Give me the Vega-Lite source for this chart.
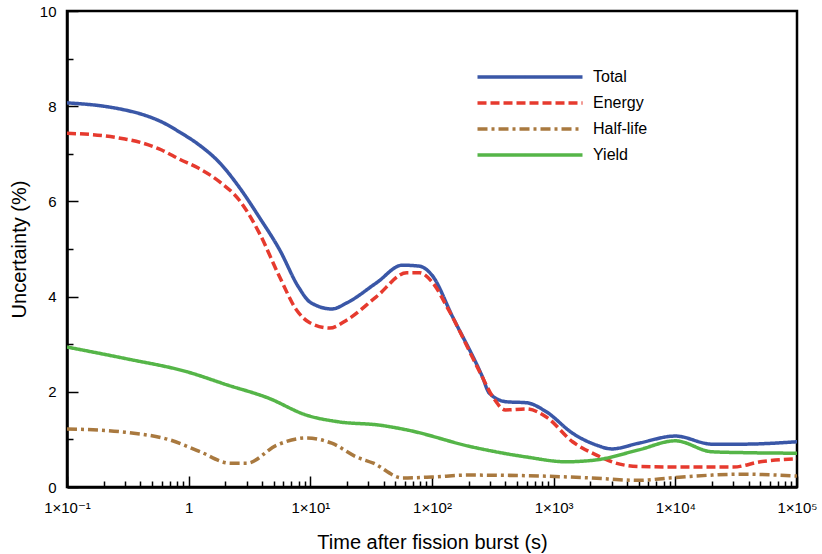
{
  "$schema": "https://vega.github.io/schema/vega-lite/v6.json",
  "width": 730,
  "height": 476,
  "autosize": {"type": "none"},
  "padding": {"left": 67, "top": 11, "right": 25, "bottom": 67},
  "background": "white",
  "config": {
    "view": {"stroke": "black", "strokeWidth": 2.5},
    "font": "Liberation Sans",
    "axis": {"domainColor": "black", "domainWidth": 2.5, "tickColor": "black", "grid": false, "labelColor": "black", "titleColor": "black", "labelFont": "Liberation Sans, DejaVu Sans", "titleFont": "Liberation Sans", "titleFontWeight": "normal", "zindex": 1}
  },
  "data": {"values": [
    {"t": 0.1, "s": "Total", "u": 8.07}, {"t": 0.2, "s": "Total", "u": 8.0}, {"t": 0.3, "s": "Total", "u": 7.92}, {"t": 0.4, "s": "Total", "u": 7.84}, {"t": 0.6, "s": "Total", "u": 7.67}, {"t": 0.85, "s": "Total", "u": 7.45}, {"t": 1.2, "s": "Total", "u": 7.2}, {"t": 1.8, "s": "Total", "u": 6.81}, {"t": 2.6, "s": "Total", "u": 6.3}, {"t": 3.8, "s": "Total", "u": 5.67}, {"t": 5.6, "s": "Total", "u": 4.98}, {"t": 8, "s": "Total", "u": 4.2}, {"t": 10, "s": "Total", "u": 3.88}, {"t": 15, "s": "Total", "u": 3.74}, {"t": 20, "s": "Total", "u": 3.87}, {"t": 35, "s": "Total", "u": 4.29}, {"t": 57, "s": "Total", "u": 4.66}, {"t": 79, "s": "Total", "u": 4.64}, {"t": 100, "s": "Total", "u": 4.45}, {"t": 148, "s": "Total", "u": 3.57}, {"t": 260, "s": "Total", "u": 2.31}, {"t": 296, "s": "Total", "u": 1.97}, {"t": 410, "s": "Total", "u": 1.79}, {"t": 600, "s": "Total", "u": 1.77}, {"t": 870, "s": "Total", "u": 1.58}, {"t": 1430, "s": "Total", "u": 1.13}, {"t": 2250, "s": "Total", "u": 0.88}, {"t": 3000, "s": "Total", "u": 0.8}, {"t": 5000, "s": "Total", "u": 0.92}, {"t": 10000, "s": "Total", "u": 1.07}, {"t": 20000, "s": "Total", "u": 0.9}, {"t": 35000, "s": "Total", "u": 0.9}, {"t": 100000, "s": "Total", "u": 0.95},
    {"t": 0.1, "s": "Energy", "u": 7.43}, {"t": 0.2, "s": "Energy", "u": 7.38}, {"t": 0.3, "s": "Energy", "u": 7.31}, {"t": 0.4, "s": "Energy", "u": 7.24}, {"t": 0.6, "s": "Energy", "u": 7.08}, {"t": 0.85, "s": "Energy", "u": 6.88}, {"t": 1.2, "s": "Energy", "u": 6.7}, {"t": 1.8, "s": "Energy", "u": 6.41}, {"t": 2.6, "s": "Energy", "u": 6.03}, {"t": 3.8, "s": "Energy", "u": 5.34}, {"t": 5.6, "s": "Energy", "u": 4.41}, {"t": 7.7, "s": "Energy", "u": 3.72}, {"t": 9.9, "s": "Energy", "u": 3.45}, {"t": 14.4, "s": "Energy", "u": 3.34}, {"t": 20, "s": "Energy", "u": 3.51}, {"t": 35, "s": "Energy", "u": 4.0}, {"t": 62, "s": "Energy", "u": 4.5}, {"t": 79, "s": "Energy", "u": 4.5}, {"t": 100, "s": "Energy", "u": 4.31}, {"t": 137, "s": "Energy", "u": 3.72}, {"t": 250, "s": "Energy", "u": 2.39}, {"t": 320, "s": "Energy", "u": 1.87}, {"t": 400, "s": "Energy", "u": 1.62}, {"t": 600, "s": "Energy", "u": 1.64}, {"t": 870, "s": "Energy", "u": 1.47}, {"t": 1430, "s": "Energy", "u": 0.95}, {"t": 2250, "s": "Energy", "u": 0.67}, {"t": 3500, "s": "Energy", "u": 0.48}, {"t": 5000, "s": "Energy", "u": 0.43}, {"t": 10000, "s": "Energy", "u": 0.42}, {"t": 30000, "s": "Energy", "u": 0.42}, {"t": 50000, "s": "Energy", "u": 0.53}, {"t": 100000, "s": "Energy", "u": 0.59},
    {"t": 0.1, "s": "Half-life", "u": 1.22}, {"t": 0.3, "s": "Half-life", "u": 1.15}, {"t": 0.7, "s": "Half-life", "u": 0.99}, {"t": 1.24, "s": "Half-life", "u": 0.74}, {"t": 2.2, "s": "Half-life", "u": 0.5}, {"t": 3, "s": "Half-life", "u": 0.5}, {"t": 5.3, "s": "Half-life", "u": 0.88}, {"t": 9.3, "s": "Half-life", "u": 1.03}, {"t": 15, "s": "Half-life", "u": 0.92}, {"t": 24, "s": "Half-life", "u": 0.63}, {"t": 33, "s": "Half-life", "u": 0.5}, {"t": 57, "s": "Half-life", "u": 0.19}, {"t": 100, "s": "Half-life", "u": 0.21}, {"t": 200, "s": "Half-life", "u": 0.25}, {"t": 800, "s": "Half-life", "u": 0.23}, {"t": 2000, "s": "Half-life", "u": 0.19}, {"t": 5000, "s": "Half-life", "u": 0.14}, {"t": 9000, "s": "Half-life", "u": 0.19}, {"t": 20000, "s": "Half-life", "u": 0.25}, {"t": 35000, "s": "Half-life", "u": 0.27}, {"t": 100000, "s": "Half-life", "u": 0.23},
    {"t": 0.1, "s": "Yield", "u": 2.94}, {"t": 0.3, "s": "Yield", "u": 2.7}, {"t": 0.97, "s": "Yield", "u": 2.42}, {"t": 2.1, "s": "Yield", "u": 2.14}, {"t": 4.5, "s": "Yield", "u": 1.87}, {"t": 9.3, "s": "Yield", "u": 1.51}, {"t": 17, "s": "Yield", "u": 1.37}, {"t": 37, "s": "Yield", "u": 1.3}, {"t": 62, "s": "Yield", "u": 1.2}, {"t": 215, "s": "Yield", "u": 0.84}, {"t": 600, "s": "Yield", "u": 0.63}, {"t": 1260, "s": "Yield", "u": 0.53}, {"t": 2250, "s": "Yield", "u": 0.57}, {"t": 5000, "s": "Yield", "u": 0.78}, {"t": 10000, "s": "Yield", "u": 0.97}, {"t": 20000, "s": "Yield", "u": 0.74}, {"t": 40000, "s": "Yield", "u": 0.72}, {"t": 100000, "s": "Yield", "u": 0.71}
  ]},
  "mark": {"type": "line", "strokeWidth": 3.5, "interpolate": "monotone", "clip": true},
  "encoding": {
    "x": {
      "field": "t", "type": "quantitative",
      "scale": {"type": "log", "domain": [0.1, 100000], "nice": false},
      "axis": {
        "title": "Time after fission burst (s)",
        "titleFontSize": 20, "titlePadding": 12,
        "labelFontSize": 15, "labelPadding": 24,
        "labelOverlap": false, "labelFlush": false,
        "values": [0.1,0.2,0.3,0.4,0.5,0.6,0.7,0.8,0.9,1,2,3,4,5,6,7,8,9,10,20,30,40,50,60,70,80,90,100,200,300,400,500,600,700,800,900,1000,2000,3000,4000,5000,6000,7000,8000,9000,10000,20000,30000,40000,50000,60000,70000,80000,90000,100000],
        "labelExpr": "datum.value == 1 ? '1' : (abs(log(datum.value)/LN10 - round(log(datum.value)/LN10)) < 0.001 ? '1×10' + ({'-1':'⁻¹','1':'¹','2':'²','3':'³','4':'⁴','5':'⁵'})[''+round(log(datum.value)/LN10)] : '')",
        "tickSize": {"condition": {"test": "abs(log(datum.value)/LN10 - round(log(datum.value)/LN10)) < 0.001", "value": -11}, "value": -6},
        "tickWidth": 1.5
      }
    },
    "y": {
      "field": "u", "type": "quantitative",
      "scale": {"domain": [0, 10], "nice": false},
      "axis": {
        "title": "Uncertainty (%)",
        "titleFontSize": 20, "titlePadding": 10,
        "labelFontSize": 15, "labelPadding": 22,
        "values": [0,0.5,1,1.5,2,2.5,3,3.5,4,4.5,5,5.5,6,6.5,7,7.5,8,8.5,9,9.5,10],
        "format": "d",
        "labelExpr": "datum.value % 2 == 0 ? datum.label : ''",
        "labelOverlap": false,
        "tickSize": {"condition": {"test": "datum.value % 2 == 0", "value": -11}, "value": -6},
        "tickWidth": 1.5
      }
    },
    "color": {
      "field": "s", "type": "nominal",
      "scale": {"domain": ["Total", "Energy", "Half-life", "Yield"], "range": ["#3a57a7", "#e63a2e", "#a9793f", "#55b548"]},
      "legend": {
        "title": null, "orient": "none", "legendX": 455, "legendY": 58,
        "symbolType": "M-10,0H10", "symbolSize": 110.25, "symbolStrokeWidth": 3.5,
        "labelFontSize": 16, "labelColor": "black", "labelOffset": 55, "rowPadding": 10, "padding": 0
      }
    },
    "strokeDash": {
      "field": "s", "type": "nominal",
      "scale": {"domain": ["Total", "Energy", "Half-life", "Yield"], "range": [[1, 0], [9, 4], [10, 4, 3, 4], [1, 0]]},
      "legend": null
    }
  }
}
